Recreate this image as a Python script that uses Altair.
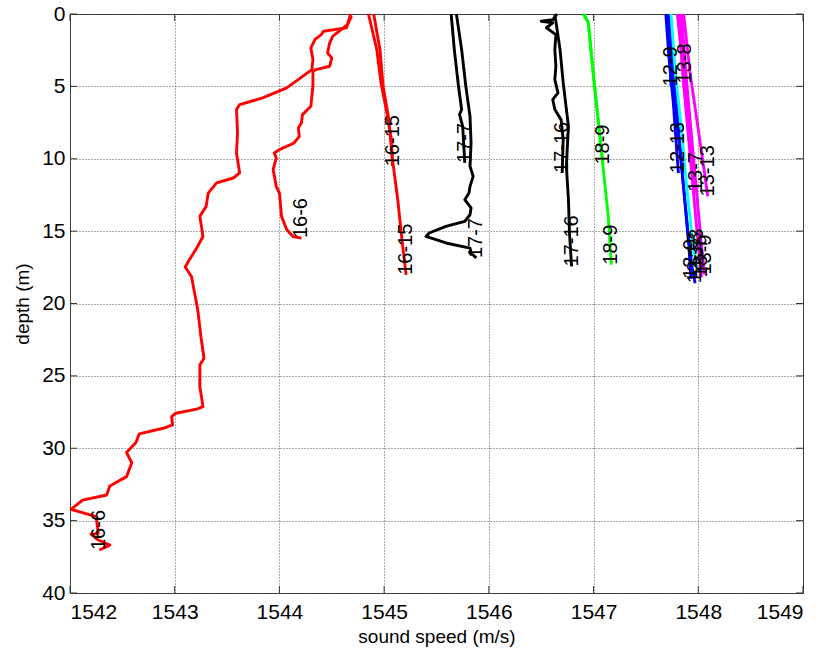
import altair as alt
import pandas as pd

# ---- sound-speed casts: speed (m/s) against depth (m) ----
# red casts, day 16
C16_6A_SPEED = [1544.68, 1544.64, 1544.42, 1544.40, 1544.34, 1544.30, 1544.32, 1544.31,
                1544.07, 1543.84, 1543.62, 1543.59, 1543.60, 1543.59, 1543.62, 1543.56,
                1543.40, 1543.32, 1543.30, 1543.24, 1543.27, 1543.21, 1543.14, 1543.10,
                1543.16, 1543.19, 1543.22, 1543.25, 1543.28, 1543.24, 1543.24, 1543.27,
                1543.21, 1543.01, 1542.97, 1542.98, 1542.89, 1542.66, 1542.63, 1542.54,
                1542.59, 1542.54, 1542.38, 1542.35, 1542.12, 1542.01, 1542.25, 1542.27,
                1542.20, 1542.27, 1542.38, 1542.28]
C16_6A_DEPTH = [0.00, 0.96, 1.19, 1.42, 1.76, 2.34, 3.15, 3.84,
                5.10, 5.80, 6.26, 6.60, 8.22, 9.60, 10.98, 11.33,
                11.67, 12.37, 13.29, 13.98, 15.37, 16.17, 16.98, 17.48,
                18.13, 19.28, 20.44, 22.28, 23.78, 24.24, 25.74, 27.12,
                27.30, 27.58, 27.81, 28.39, 28.62, 29.01, 29.61, 30.30,
                31.00, 31.96, 32.61, 33.23, 33.58, 34.22, 34.73, 35.88,
                35.93, 36.34, 36.69, 37.03]

C16_6B_SPEED = [1544.69, 1544.65, 1544.51, 1544.48, 1544.46, 1544.50, 1544.48, 1544.35,
                1544.32, 1544.32, 1544.30, 1544.22, 1544.21, 1544.18, 1544.19, 1544.14,
                1544.00, 1543.95, 1543.97, 1543.94, 1543.97, 1544.00, 1544.02, 1544.07,
                1544.13, 1544.21]
C16_6B_DEPTH = [0.15, 0.73, 1.53, 1.99, 2.69, 3.03, 3.61, 3.84,
                3.96, 4.99, 6.37, 6.95, 7.53, 7.87, 8.45, 8.91,
                9.37, 9.60, 9.94, 10.75, 11.91, 12.37, 13.98, 14.90,
                15.37, 15.48]

C16_15A_SPEED = [1544.85, 1544.93, 1544.97, 1545.02, 1545.07, 1545.08]
C16_15A_DEPTH = [0.00, 2.46, 4.76, 6.60, 8.68, 10.52]
C16_15B_SPEED = [1544.90, 1544.96, 1544.99, 1545.04, 1545.08, 1545.13, 1545.17, 1545.21]
C16_15B_DEPTH = [0.00, 2.46, 4.99, 7.07, 10.06, 12.83, 15.59, 18.02]

# black casts, day 17
C17_7A_SPEED = [1545.64, 1545.67, 1545.71, 1545.74, 1545.72, 1545.75, 1545.77]
C17_7A_DEPTH = [0.00, 2.46, 4.99, 6.60, 6.95, 7.76, 10.29]
C17_7B_SPEED = [1545.69, 1545.74, 1545.78, 1545.82, 1545.83, 1545.82, 1545.85, 1545.82,
                1545.81, 1545.77, 1545.83, 1545.82, 1545.77, 1545.59, 1545.43, 1545.40,
                1545.59, 1545.82, 1545.83, 1545.88]
C17_7B_DEPTH = [0.00, 2.46, 4.99, 7.07, 8.91, 10.52, 11.22, 11.91,
                12.37, 12.83, 13.40, 13.87, 14.33, 14.67, 15.13, 15.37,
                15.82, 16.17, 16.51, 16.86]

C17_16A_SPEED = [1546.65, 1546.61, 1546.50, 1546.61, 1546.55, 1546.64, 1546.63, 1546.64,
                 1546.63, 1546.66, 1546.61, 1546.63, 1546.69, 1546.71, 1546.70]
C17_16A_DEPTH = [0.00, 0.40, 0.50, 0.61, 0.95, 1.42, 2.46, 3.61,
                 4.53, 5.45, 5.91, 6.60, 7.30, 8.68, 10.98]
C17_16B_SPEED = [1546.63, 1546.68, 1546.71, 1546.76, 1546.74, 1546.76, 1546.77, 1546.79]
C17_16B_DEPTH = [0.03, 2.46, 4.76, 7.76, 10.52, 12.83, 15.13, 17.44]

# green casts, day 18
C18_9A_SPEED = [1546.90, 1546.95, 1546.99, 1547.04, 1547.09]
C18_9A_DEPTH = [0.00, 0.61, 3.61, 7.07, 10.40]
C18_9B_SPEED = [1546.91, 1546.95, 1546.99, 1547.04, 1547.09, 1547.14, 1547.17]
C18_9B_DEPTH = [0.00, 0.61, 3.61, 7.07, 10.52, 13.98, 17.32]

# blue / cyan / magenta casts, days 12-13
C12_9A_SPEED = [1547.70, 1547.72, 1547.74]
C12_9A_DEPTH = [0.0, 2.0, 5.0]
C12_13A_SPEED = [1547.69, 1547.72, 1547.76, 1547.79, 1547.81]
C12_13A_DEPTH = [0.0, 3.0, 6.0, 9.0, 11.0]
C12_13B_SPEED = [1547.71, 1547.74, 1547.78, 1547.82, 1547.86, 1547.90, 1547.94, 1547.97]
C12_13B_DEPTH = [0.0, 3.0, 6.0, 9.0, 12.0, 15.0, 17.5, 18.6]
C12_9B_SPEED = [1547.73, 1547.77, 1547.81, 1547.86, 1547.91, 1547.93]
C12_9B_DEPTH = [0.0, 4.0, 8.0, 12.0, 16.0, 18.3]
C13_3_SPEED = [1547.74, 1547.78, 1547.84, 1547.89, 1547.95, 1547.99]
C13_3_DEPTH = [0.0, 4.0, 8.0, 12.0, 16.0, 17.6]
C13_8_SPEED = [1547.80, 1547.83, 1547.87]
C13_8_DEPTH = [0.0, 2.0, 4.8]
C13_7A_SPEED = [1547.82, 1547.86, 1547.91, 1547.98]
C13_7A_DEPTH = [0.0, 4.0, 8.0, 12.3]
C13_13_SPEED = [1547.86, 1547.92, 1548.00, 1548.06, 1548.09]
C13_13_DEPTH = [0.0, 4.0, 8.0, 11.0, 12.6]
C13_7B_SPEED = [1547.81, 1547.85, 1547.90, 1547.95, 1548.00, 1548.03]
C13_7B_DEPTH = [0.0, 4.0, 8.0, 12.0, 16.0, 18.2]
C13_9_SPEED = [1547.84, 1547.88, 1547.93, 1547.98, 1548.03, 1548.06]
C13_9_DEPTH = [0.0, 4.0, 8.0, 12.0, 16.0, 18.0]

RED, BLACK, GREEN = "#ff0000", "#000000", "#00ff00"
BLUE, CYAN, MAGENTA = "#0000ff", "#00ffff", "#ff00ff"

CASTS = [
    ("16-6", RED, C16_6A_SPEED, C16_6A_DEPTH),
    ("16-6", RED, C16_6B_SPEED, C16_6B_DEPTH),
    ("16-15", RED, C16_15A_SPEED, C16_15A_DEPTH),
    ("16-15", RED, C16_15B_SPEED, C16_15B_DEPTH),
    ("17-7", BLACK, C17_7A_SPEED, C17_7A_DEPTH),
    ("17-7", BLACK, C17_7B_SPEED, C17_7B_DEPTH),
    ("17-16", BLACK, C17_16A_SPEED, C17_16A_DEPTH),
    ("17-16", BLACK, C17_16B_SPEED, C17_16B_DEPTH),
    ("18-9", GREEN, C18_9A_SPEED, C18_9A_DEPTH),
    ("18-9", GREEN, C18_9B_SPEED, C18_9B_DEPTH),
    ("12-9", BLUE, C12_9A_SPEED, C12_9A_DEPTH),
    ("12-13", BLUE, C12_13A_SPEED, C12_13A_DEPTH),
    ("12-13", BLUE, C12_13B_SPEED, C12_13B_DEPTH),
    ("12-9", BLUE, C12_9B_SPEED, C12_9B_DEPTH),
    ("13-3", CYAN, C13_3_SPEED, C13_3_DEPTH),
    ("13-8", MAGENTA, C13_8_SPEED, C13_8_DEPTH),
    ("13-7", MAGENTA, C13_7A_SPEED, C13_7A_DEPTH),
    ("13-13", MAGENTA, C13_13_SPEED, C13_13_DEPTH),
    ("13-7", MAGENTA, C13_7B_SPEED, C13_7B_DEPTH),
    ("13-9", MAGENTA, C13_9_SPEED, C13_9_DEPTH),
]

X_TICKS = [1542, 1543, 1544, 1545, 1546, 1547, 1548, 1549]
Y_TICKS = [0, 5, 10, 15, 20, 25, 30, 35, 40]

W, H = 733, 579
FONT = "Liberation Sans"

rows, ends = [], []
for i, (label, colour, speeds, depths) in enumerate(CASTS):
    cid = f"c{i:02d}"
    for k, (s, d) in enumerate(zip(speeds, depths)):
        rows.append({"cast": cid, "seq": k, "speed": s, "depth": d})
    ends.append({"cast": cid, "label": label, "speed": speeds[-1], "depth": depths[-1]})

lines_df = pd.DataFrame(rows)
ends_df = pd.DataFrame(ends)
cast_ids = [f"c{i:02d}" for i in range(len(CASTS))]
cast_colours = [c[1] for c in CASTS]

x_scale = alt.Scale(domain=[1542, 1549], nice=False, zero=False)
y_scale = alt.Scale(domain=[0, 40], reverse=True, nice=False, zero=False)

x_axis = alt.Axis(values=X_TICKS, format="d", title="sound speed (m/s)",
                  grid=True, gridDash=[1, 2], gridColor="#555", gridWidth=1,
                  ticks=False, domain=False, labelPadding=8,
                  labelFontSize=21, labelFont=FONT, labelColor="black",
                  titleFontSize=19, titleFont=FONT, titleFontWeight="normal",
                  titleColor="black", titlePadding=5)
y_axis = alt.Axis(values=Y_TICKS, format="d", title="depth (m)",
                  grid=True, gridDash=[1, 2], gridColor="#555", gridWidth=1,
                  ticks=False, domain=False, labelPadding=5,
                  labelFontSize=21, labelFont=FONT, labelColor="black",
                  titleFontSize=19, titleFont=FONT, titleFontWeight="normal",
                  titleColor="black", titlePadding=9)

lines = alt.Chart(lines_df).mark_line(strokeWidth=2.9, strokeJoin="round").encode(
    x=alt.X("speed:Q", scale=x_scale, axis=x_axis),
    y=alt.Y("depth:Q", scale=y_scale, axis=y_axis),
    color=alt.Color("cast:N", scale=alt.Scale(domain=cast_ids, range=cast_colours), legend=None),
    detail="cast:N",
    order="seq:Q",
)

labels = alt.Chart(ends_df).mark_text(
    angle=270, align="left", baseline="middle", fontSize=20, font=FONT, color="black"
).encode(
    x=alt.X("speed:Q", scale=x_scale),
    y=alt.Y("depth:Q", scale=y_scale),
    text="label:N",
)

# inward tick marks on all four sides of the box
xt = pd.DataFrame({"v": X_TICKS})
yt = pd.DataFrame({"v": Y_TICKS})
TL = 7
tick_style = dict(color="#333", strokeWidth=1)
bottom_ticks = alt.Chart(xt).mark_rule(**tick_style).encode(
    x=alt.X("v:Q", scale=x_scale), y=alt.value(H), y2=alt.value(H - TL))
top_ticks = alt.Chart(xt).mark_rule(**tick_style).encode(
    x=alt.X("v:Q", scale=x_scale), y=alt.value(0), y2=alt.value(TL))
left_ticks = alt.Chart(yt).mark_rule(**tick_style).encode(
    y=alt.Y("v:Q", scale=y_scale), x=alt.value(0), x2=alt.value(TL))
right_ticks = alt.Chart(yt).mark_rule(**tick_style).encode(
    y=alt.Y("v:Q", scale=y_scale), x=alt.value(W), x2=alt.value(W - TL))

chart = alt.layer(
    bottom_ticks, top_ticks, left_ticks, right_ticks, lines, labels
).properties(
    width=W, height=H,
    autosize=alt.AutoSizeParams(type="none"),
    padding={"left": 70, "top": 14, "right": 26, "bottom": 57},
    background="white",
).configure_view(stroke="#333", strokeWidth=1)

chart.save("out.html", embed_options={"renderer": "svg", "actions": False})
